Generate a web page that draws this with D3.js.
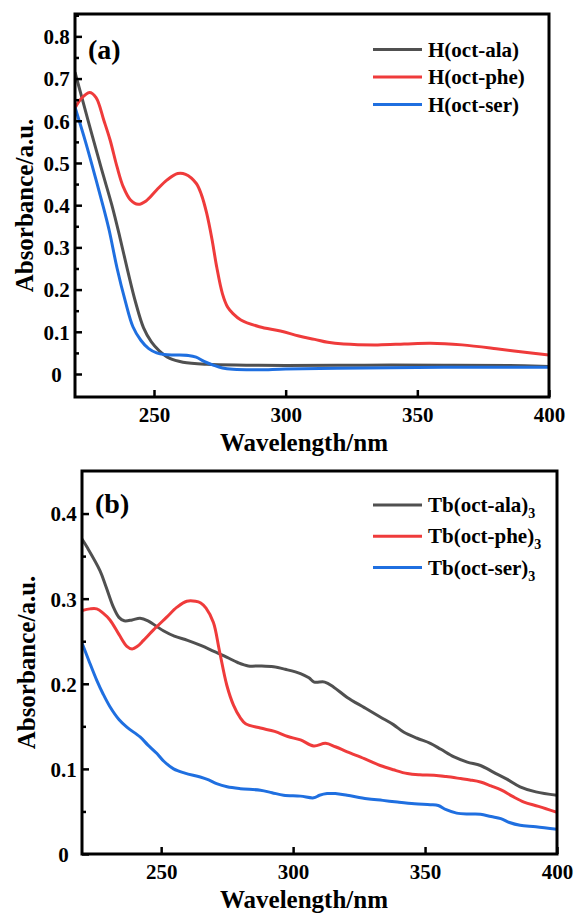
<!DOCTYPE html>
<html lang="en">
<head>
<meta charset="UTF-8">
<title>UV-Vis absorbance</title>
<script src="https://d3js.org/d3.v7.min.js"></script>
<style>
    body { margin: 0; background: #fff; }
    svg { display: block; }
    text { font-family: "Liberation Serif", "Times New Roman", serif; font-weight: bold; fill: #000; }
</style>
</head>
<body>
<svg id="chart" width="574" height="913"></svg>
<script>
// --- data: [wavelength nm, absorbance] ---
const hAla = [[220,0.715],[225,0.6],[230,0.487],[234,0.4],[237,0.325],[240,0.245],[243,0.17],[246,0.11],[249,0.076],
    [252,0.055],[256,0.037],[261,0.028],[270,0.023],[285,0.021],[300,0.02],[330,0.021],[360,0.021],[385,0.02],[400,0.018]];
const hPhe = [[220,0.63],[222,0.65],[225.5,0.667],[228,0.655],[231,0.6],[233.3,0.555],[236,0.49],[238.3,0.444],[241,0.413],
    [244,0.402],[247,0.41],[251,0.436],[255,0.46],[259,0.475],[262,0.473],[266,0.452],[268,0.425],[270,0.381],[272,0.32],
    [273.8,0.254],[276,0.19],[278,0.158],[280,0.143],[283,0.128],[290,0.112],[298,0.102],[305,0.09],[311,0.082],
    [316,0.075],[322,0.071],[335,0.069],[345,0.071],[355,0.073],[367,0.069],[380,0.06],[390,0.052],[400,0.045]];
const hSer = [[220,0.632],[224,0.55],[228,0.46],[231,0.39],[233,0.34],[236,0.25],[239,0.175],[242,0.112],[245,0.08],
    [248,0.06],[251,0.05],[254,0.046],[258,0.045],[263,0.044],[266,0.04],[269,0.03],[272.5,0.021],[276,0.014],[280,0.011],
    [290,0.01],[300,0.012],[330,0.014],[360,0.016],[400,0.016]];

const tbAla = [[220,0.37],[222,0.36],[226.8,0.333],[229,0.315],[231.9,0.29],[234,0.278],[236,0.274],[239,0.275],[242,0.277],
    [245,0.274],[248,0.268],[251,0.262],[255,0.256],[260,0.251],[265,0.245],[270,0.238],[275,0.231],[279,0.225],[283,0.221],
    [288,0.221],[292.6,0.22],[297,0.217],[302.8,0.212],[306,0.207],[308,0.202],[312,0.202],[315.4,0.196],[320.5,0.184],
    [327,0.172],[333,0.161],[338,0.152],[342,0.143],[347,0.136],[352,0.13],[356,0.123],[361,0.114],[366,0.108],[371,0.104],
    [376,0.096],[381,0.088],[386,0.079],[392,0.073],[400,0.069]];
const tbPhe = [[220,0.286],[223,0.288],[225.6,0.288],[228,0.283],[230.6,0.275],[234,0.258],[237,0.244],[239,0.241],[241,0.244],
    [243.3,0.251],[247,0.263],[252,0.278],[256,0.29],[259.7,0.297],[263,0.297],[265,0.295],[267,0.289],[269.8,0.272],[272,0.24],
    [274.9,0.198],[277.4,0.175],[280,0.16],[282,0.153],[287.6,0.148],[293,0.144],[298,0.138],[302.8,0.134],[307.8,0.127],
    [312.3,0.13],[316,0.126],[320.5,0.12],[327,0.112],[333,0.104],[338,0.099],[343.3,0.0945],[348,0.093],[353.4,0.0925],
    [358,0.091],[363.5,0.0886],[367,0.087],[371,0.0846],[375,0.08],[379,0.075],[383,0.068],[387.5,0.061],[393,0.056],[400,0.049]];
const tbSer = [[220,0.248],[222.5,0.228],[225.6,0.204],[228,0.188],[230.6,0.173],[234,0.158],[237,0.149],[242,0.1375],[245,0.128],
    [248.4,0.118],[251,0.109],[254.7,0.1],[259,0.095],[264.8,0.0905],[268,0.087],[271,0.0827],[275,0.079],[280,0.0768],
    [287.6,0.0749],[292,0.072],[296.4,0.069],[302.8,0.068],[307.8,0.066],[310,0.069],[312.9,0.071],[316,0.071],[320.5,0.069],
    [328,0.065],[334,0.063],[339.5,0.061],[346,0.059],[352,0.058],[355,0.057],[358,0.052],[362,0.048],[367,0.047],[371,0.0467],
    [375,0.044],[378.7,0.0416],[382,0.037],[386,0.0337],[392,0.032],[400,0.029]];

const xTicks = [250, 300, 350, 400];
const yTicksA = [0, 0.1, 0.2, 0.3, 0.4, 0.5, 0.6, 0.7, 0.8];
const yTicksB = [0, 0.1, 0.2, 0.3, 0.4];
const namesA = ["H(oct-ala)", "H(oct-phe)", "H(oct-ser)"];
const namesB = ["Tb(oct-ala)", "Tb(oct-phe)", "Tb(oct-ser)"];
const colors = ["#505050", "#ef3b3b", "#1f6fe0"];

const svg = d3.select("#chart");

function drawPanel(p) {
    const x = d3.scaleLinear().domain([220, 400]).range([p.left, p.right]);
    const y = d3.scaleLinear().domain(p.yDomain).range([p.bottom, p.top]);
    const g = svg.append("g");

    const clipId = "clip-" + p.label;
    svg.append("clipPath").attr("id", clipId)
        .append("rect").attr("x", p.left).attr("y", p.top)
        .attr("width", p.right - p.left).attr("height", p.bottom - p.top);

    // curves
    const line = d3.line().x(d => x(d[0])).y(d => y(d[1])).curve(d3.curveCatmullRom.alpha(0.5));
    g.append("g").attr("clip-path", `url(#${clipId})`)
        .selectAll("path").data(p.series).join("path")
        .attr("d", d => line(d))
        .attr("fill", "none")
        .attr("stroke", (d, i) => colors[i])
        .attr("stroke-width", 3)
        .attr("stroke-linejoin", "round");

    // y axis, ticks point inward
    const yMinor = d3.range(0.05, p.yDomain[1], 0.1);
    g.append("g").attr("transform", `translate(${p.left},0)`)
        .call(d3.axisLeft(y).tickValues(yMinor).tickSize(-4).tickFormat(""))
        .call(a => a.select(".domain").remove())
        .call(a => a.selectAll("line").attr("stroke-width", 2.5));
    const yAx = g.append("g").attr("transform", `translate(${p.left},0)`)
        .call(d3.axisLeft(y).tickValues(p.yTicks).tickSize(-7)
            .tickFormat(d => d === 0 ? "0" : d3.format(".1f")(d)))
        .call(a => a.select(".domain").remove());
    yAx.selectAll("line").attr("stroke-width", 2.5);
    yAx.selectAll("text")
        .attr("x", -18.5).attr("dy", "0.35em")
        .attr("text-anchor", "middle")
        .attr("font-size", 21).attr("font-family", null);

    // x axis
    const xAx = g.append("g").attr("transform", `translate(0,${p.bottom})`)
        .call(d3.axisBottom(x).tickValues(xTicks).tickSize(-7).tickFormat(d3.format("d")))
        .call(a => a.select(".domain").remove());
    xAx.selectAll("line").attr("stroke-width", 2.5);
    xAx.selectAll("text")
        .attr("y", 25).attr("dy", 0)
        .attr("font-size", 21).attr("font-family", null);

    // frame
    g.append("rect")
        .attr("x", p.left).attr("y", p.top)
        .attr("width", p.right - p.left).attr("height", p.bottom - p.top)
        .attr("fill", "none").attr("stroke", "#000").attr("stroke-width", 3);

    // axis titles
    g.append("text")
        .attr("x", 304).attr("y", p.bottom + 54)
        .attr("text-anchor", "middle").attr("font-size", 25)
        .text("Wavelength/nm");
    g.append("text")
        .attr("transform", `translate(${p.titleX},${(p.top + p.bottom) / 2}) rotate(-90)`)
        .attr("text-anchor", "middle").attr("font-size", 25)
        .text("Absorbance/a.u.");

    // panel label
    g.append("text")
        .attr("x", p.left + p.labelDx).attr("y", p.labelY)
        .attr("font-size", 28)
        .text(`(${p.label})`);

    // legend
    const leg = g.append("g");
    p.names.forEach((name, i) => {
        const ly = p.legendY + i * p.legendStep;
        leg.append("line")
            .attr("x1", 373).attr("x2", 422)
            .attr("y1", ly).attr("y2", ly)
            .attr("stroke", colors[i]).attr("stroke-width", 3);
        const t = leg.append("text")
            .attr("x", 428).attr("y", ly + 7)
            .attr("font-size", 21)
            .text(name);
        if (p.sub) {
            t.append("tspan").attr("font-size", 14).attr("dy", 6).text(p.sub);
        }
    });
}

drawPanel({
    label: "a", left: 75, right: 549, top: 14, bottom: 397,
    yDomain: [-0.0545, 0.853], yTicks: yTicksA,
    series: [hAla, hPhe, hSer], names: namesA, sub: null,
    legendY: 49.5, legendStep: 27.5, labelDx: 13, labelY: 59, titleX: 33
});
drawPanel({
    label: "b", left: 82, right: 557, top: 471, bottom: 854,
    yDomain: [0, 0.45], yTicks: yTicksB,
    series: [tbAla, tbPhe, tbSer], names: namesB, sub: "3",
    legendY: 505, legendStep: 31.3, labelDx: 13, labelY: 513, titleX: 35
});
</script>
</body>
</html>
